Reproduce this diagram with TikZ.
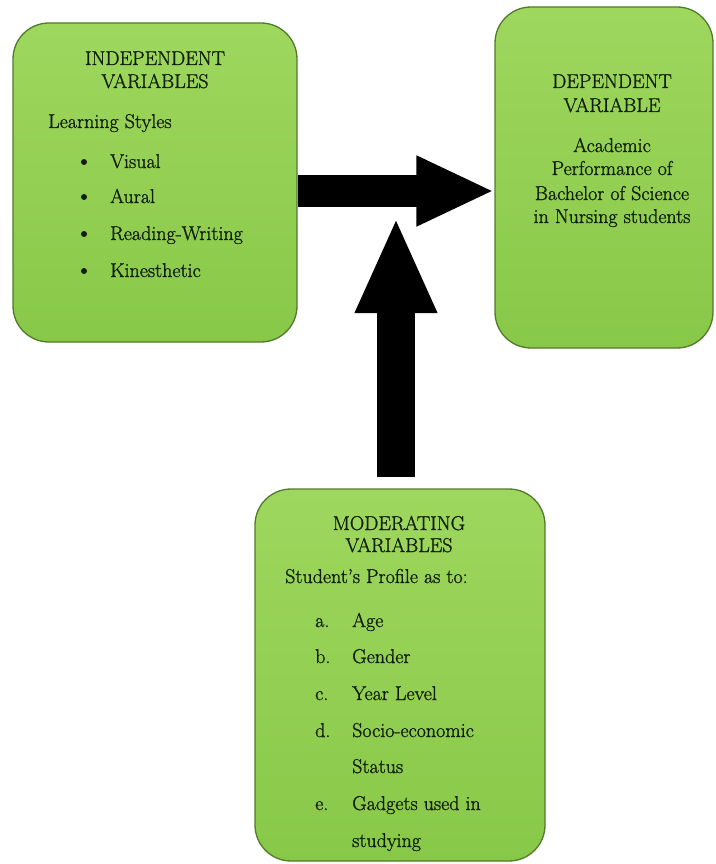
\documentclass[tikz,border=0pt]{standalone}
\usepackage{fontspec}
\newfontfamily\diagfont{Latin Modern Roman}[FakeBold=1.2]
\usetikzlibrary{arrows.meta}

\definecolor{boxgreen}{RGB}{146,208,80}
\definecolor{boxtop}{RGB}{158,215,94}
\definecolor{boxbot}{RGB}{136,200,72}
\definecolor{boxline}{RGB}{82,122,42}
\definecolor{inkgreen}{RGB}{18,30,10}

\tikzset{
  varbox/.style={draw=boxline, line width=1.3pt, rounded corners=36pt,
    top color=boxtop, bottom color=boxbot, inner sep=0pt},
  txt/.style={inner sep=0pt, text=inkgreen, font=\diagfont\fontsize{20}{24}\selectfont},
  dot/.style={circle, fill=inkgreen, inner sep=0pt, minimum size=6pt}
}

\begin{document}
\begin{tikzpicture}[x=1pt,y=-1pt]
    \useasboundingbox (0,0) rectangle (715,864);

    % the three variable boxes
    \node[varbox, minimum width=284pt, minimum height=319pt] (ind) at (155,182.5) {};
    \node[varbox, minimum width=218pt, minimum height=341pt] (dep) at (604,177.5) {};
    \node[varbox, minimum width=290pt, minimum height=372pt] (mod) at (400,675) {};

    % independent variables
    \node[txt, anchor=base] (indt1) at (155,65) {INDEPENDENT};
    \node[txt, anchor=base] (indt2) at (155,88) {VARIABLES};
    \node[txt, anchor=base west] (indsub) at (48,128) {Learning Styles};
    \foreach \lbl/\yy in {Visual/168, Aural/203, Reading-Writing/240, Kinesthetic/277} {
        \node[dot] (bul\yy) at (84,\yy-6) {};
        \node[txt, anchor=base west] (ind\yy) at (110,\yy) {\lbl};
    }

    % dependent variable
    \node[txt, anchor=base] (dept1) at (612,88) {DEPENDENT};
    \node[txt, anchor=base] (dept2) at (612,112) {VARIABLE};
    \foreach \lbl/\yy in {Academic/152, Performance of/175, Bachelor of Science/200, in Nursing students/223} {
        \node[txt, anchor=base] (dep\yy) at (612,\yy) {\lbl};
    }

    % moderating variables
    \node[txt, anchor=base] (modt1) at (399,530) {MODERATING};
    \node[txt, anchor=base] (modt2) at (399,552) {VARIABLES};
    \node[txt, anchor=base west] (modsub) at (285,583) {Student’s Profile as to:};
    \foreach \ltr/\lbl/\yy in {a./Age/627, b./Gender/663, c./Year Level/700,
        d./Socio-economic/737, /Status/773, e./Gadgets used in/810, /studying/847} {
        \node[txt, anchor=base west] (ltr\yy) at (315,\yy) {\ltr};
        \node[txt, anchor=base west] (mod\yy) at (352,\yy) {\lbl};
    }

    % block arrows
    \coordinate (modtip) at (396,217);
    \draw[line width=32pt, -{Triangle[width=65pt,length=78pt]}]
        (ind.east |- 0,191) -- (dep.west |- 0,191);
    \draw[line width=38pt, -{Triangle[width=75pt,length=96pt]}]
        ([yshift=11pt]mod.north -| modtip) -- (modtip);
\end{tikzpicture}
\end{document}
